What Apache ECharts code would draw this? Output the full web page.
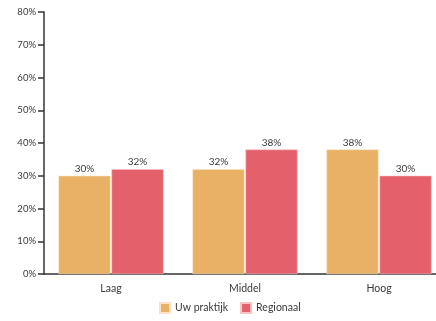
<!DOCTYPE html>
<html>
<head>
<meta charset="utf-8">
<script src="https://cdn.jsdelivr.net/npm/echarts@6/dist/echarts.min.js"></script>
<style>
  html, body { margin: 0; padding: 0; background: #fff; }
  #chart { width: 436px; height: 321px; }
</style>
</head>
<body>
<div id="chart"></div>
<script>
// categorieën en waarden (%)
const categories = ['Laag', 'Middel', 'Hoog']
const praktijk = [30, 32, 38]
const regionaal = [32, 38, 30]
const seriesNames = ['Uw praktijk', 'Regionaal']

const font = 'Lato, "Open Sans", sans-serif'
const textColor = '#3a3a3a'

const barLabel = {
  show: true,
  position: 'top',
  distance: 2,
  formatter: '{c}%',
  color: textColor,
  fontSize: 10,
  fontFamily: font
}

const option = {
  animation: false,
  color: ['#E8B166', '#E4616C'],
  grid: { left: 44, top: 12, width: 402, height: 262, outerBoundsMode: 'none' },
  legend: {
    bottom: 2,
    left: 154,
    itemWidth: 10,
    itemHeight: 10,
    itemGap: 12,
    icon: 'rect',
    textStyle: { color: textColor, fontSize: 10.5, fontFamily: font },
    data: seriesNames
  },
  xAxis: {
    type: 'category',
    data: categories,
    axisLine: { lineStyle: { color: '#333', width: 1.5 } },
    axisTick: { alignWithLabel: true, length: 5, lineStyle: { color: '#333', width: 1.5 } },
    axisLabel: { color: textColor, fontSize: 10.5, fontFamily: font, margin: 9 }
  },
  yAxis: {
    type: 'value',
    min: 0,
    max: 80,
    interval: 10,
    axisLine: { show: true, lineStyle: { color: '#333', width: 1.5 } },
    axisTick: { show: true, length: 6, lineStyle: { color: '#333', width: 1.5 } },
    axisLabel: { formatter: '{value}%', color: textColor, fontSize: 9.5, fontFamily: font, margin: 8 },
    splitLine: { show: false }
  },
  series: [
    {
      name: seriesNames[0],
      type: 'bar',
      data: praktijk,
      barWidth: 52,
      barGap: '2%',
      itemStyle: { borderColor: '#fbe3c4', borderWidth: 0.5 },
      label: barLabel
    },
    {
      name: seriesNames[1],
      type: 'bar',
      data: regionaal,
      barWidth: 52,
      barGap: '2%',
      itemStyle: { borderColor: '#f7c3c6', borderWidth: 0.5 },
      label: barLabel
    }
  ]
}

const myChart = echarts.init(document.getElementById('chart'))
myChart.setOption(option)
</script>
</body>
</html>
